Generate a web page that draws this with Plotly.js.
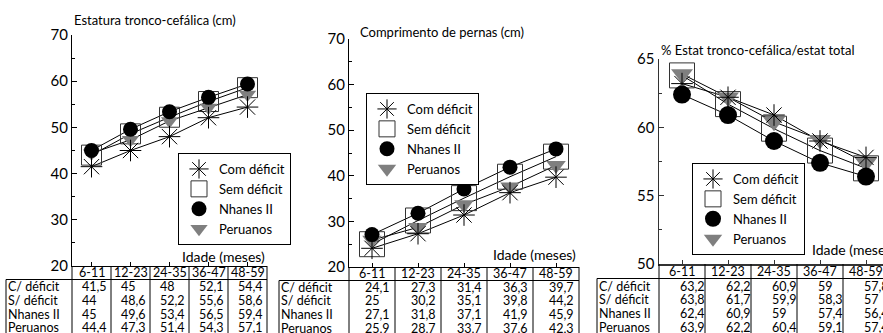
<!DOCTYPE html>
<html><head><meta charset="utf-8">
<script src="https://cdn.plot.ly/plotly-3.0.1.min.js"></script>
<style>html,body{margin:0;padding:0;background:#fff}#chart{width:883px;height:333px}</style>
</head><body><div id="chart"></div>
<script>
// ---- data ----
const ageGroups = ['6-11', '12-23', '24-35', '36-47', '48-59'];
const seriesNames = ['Com déficit', 'Sem déficit', 'Nhanes II', 'Peruanos'];
const rowLabels = ['C/ déficit', 'S/ déficit', 'Nhanes II', 'Peruanos'];
const xAxisLabel = 'Idade (meses)';
const panelTitles = ['Estatura tronco-cefálica (cm)', 'Comprimento de pernas (cm)', '% Estat tronco-cefálica/estat total'];

const tcComDeficit = [41.5, 45, 48, 52.1, 54.4];
const tcSemDeficit = [44, 48.6, 52.2, 55.6, 58.6];
const tcNhanes = [45, 49.6, 53.4, 56.5, 59.4];
const tcPeruanos = [44.4, 47.3, 51.4, 54.3, 57.1];

const cpComDeficit = [24.1, 27.3, 31.4, 36.3, 39.7];
const cpSemDeficit = [25, 30.2, 35.1, 39.8, 44.2];
const cpNhanes = [27.1, 31.8, 37.1, 41.9, 45.9];
const cpPeruanos = [25.9, 28.7, 33.7, 37.6, 42.3];

const pctComDeficit = [63.2, 62.2, 60.9, 59, 57.8];
const pctSemDeficit = [63.8, 61.7, 59.9, 58.3, 57];
const pctNhanes = [62.4, 60.9, 59, 57.4, 56.4];
const pctPeruanos = [63.9, 62.2, 60.4, 59.1, 57.4];

// ---- layout helpers ----
const W = 883, H = 333;
const FONT = 'Lato, "Open Sans", sans-serif';
const TFS = 12.5; // table font size
const px = v => v / W;
const py = v => 1 - v / H;

const panels = [
  { data: [tcComDeficit, tcSemDeficit, tcNhanes, tcPeruanos],
    xs: '', xPix: [72, 267], yPix: [266, 35], yRange: [20, 70], dtick: 10, minor: 5, xRange: [-0.5, 4.5],
    sz: { sq: 20, ci: 15, tr: 15, as: 18 }, axisColor: '#000', axisWidth: 1,
    title: [72, 20], xlab: [267, 256, 'right'], legend: [178, 153],
    table: { left: 6, headerY: 272.5, headerBottom: 279.5, row0: 286.5, pad: 0.23 } },
  { data: [cpComDeficit, cpSemDeficit, cpNhanes, cpPeruanos],
    xs: '2', xPix: [349, 579], yPix: [267, 39], yRange: [20, 70], dtick: 10, minor: 5, xRange: [-0.5, 4.5],
    sz: { sq: 25, ci: 15, tr: 17, as: 18 }, axisColor: '#000', axisWidth: 1,
    title: [358, 32], xlab: [578, 255, 'right'], legend: [366, 93],
    table: { left: 279, headerY: 273.5, headerBottom: 280.5, row0: 287, pad: 0.33 } },
  { data: [pctComDeficit, pctSemDeficit, pctNhanes, pctPeruanos],
    xs: '3', xPix: [659, 883], yPix: [264, 59], yRange: [50, 65], dtick: 5, minor: 2.5, xRange: [-0.5, -0.5 + (883 - 659) / 46],
    sz: { sq: 25, ci: 18, tr: 19, as: 18 }, axisColor: '#333', axisWidth: 1.5,
    title: [659, 50], xlab: [810, 250, 'left'], legend: [692, 163],
    table: { left: 597, headerY: 271, headerBottom: 278.5, row0: 286, pad: 0.43 } }
];
const ROWSTEP = 13.8;

const fmt = v => String(v).replace('.', ',');
const traces = [];
const layout = {
  width: W, height: H, autosize: false,
  margin: { l: 0, r: 0, t: 0, b: 0, pad: 0 },
  paper_bgcolor: '#fff', plot_bgcolor: 'rgba(0,0,0,0)',
  font: { family: FONT, color: '#000', size: 14 },
  showlegend: true,
  annotations: [], shapes: []
};

panels.forEach((p, k) => {
  const xa = 'x' + p.xs, ya = 'y' + p.xs;
  const legendId = 'legend' + p.xs;
  const dom = [px(p.xPix[0]), px(p.xPix[1])];
  layout['xaxis' + p.xs] = {
    domain: dom, anchor: ya, type: 'category', range: p.xRange,
    showline: true, linecolor: p.axisColor, linewidth: p.axisWidth,
    ticks: 'inside', ticklen: 4, tickcolor: p.axisColor, tickwidth: 1,
    showticklabels: false, showgrid: false, zeroline: false, fixedrange: true
  };
  layout['yaxis' + p.xs] = {
    domain: [py(p.yPix[0]), py(p.yPix[1])], anchor: xa, range: p.yRange,
    showline: true, linecolor: p.axisColor, linewidth: p.axisWidth,
    ticks: 'inside', ticklen: 5, tickcolor: p.axisColor, tickwidth: 1,
    tick0: p.yRange[0], dtick: p.dtick,
    minor: { dtick: p.minor, ticks: 'inside', ticklen: 3, tickcolor: p.axisColor, showgrid: false },
    tickfont: { size: 15, family: FONT, color: '#000' },
    showgrid: false, zeroline: false, fixedrange: true
  };
  layout[legendId] = {
    x: px(p.legend[0]), y: py(p.legend[1]), xanchor: 'left', yanchor: 'top',
    bgcolor: '#fff', bordercolor: '#000', borderwidth: 1,
    font: { family: FONT, size: 13, color: '#000' },
    itemwidth: 30, tracegroupgap: 0, traceorder: 'normal'
  };

  const [com, sem, nh, per] = p.data;
  const base = { x: ageGroups, xaxis: xa, yaxis: ya, legend: legendId, cliponaxis: false, hoverinfo: 'skip' };
  // connecting lines (not in legend)
  [com, sem, nh, per].forEach(arr => {
    traces.push(Object.assign({}, base, { y: arr, mode: 'lines', showlegend: false,
      line: { color: '#000', width: 1 } }));
  });
  // markers
  traces.push(Object.assign({}, base, { y: sem, mode: 'markers', name: seriesNames[1], legendrank: 2,
    marker: { symbol: 'square-open', size: p.sz.sq, color: '#333', line: { width: 1 } } }));
  traces.push(Object.assign({}, base, { y: per, mode: 'markers', name: seriesNames[3], legendrank: 4,
    marker: { symbol: 'triangle-down', size: p.sz.tr, color: '#7f7f7f', line: { width: 0 } } }));
  traces.push(Object.assign({}, base, { y: nh, mode: 'markers', name: seriesNames[2], legendrank: 3,
    marker: { symbol: 'circle', size: p.sz.ci, color: '#000', line: { width: 0 } } }));
  traces.push(Object.assign({}, base, { y: com, mode: 'markers', name: seriesNames[0], legendrank: 1,
    marker: { symbol: 'asterisk-open', size: p.sz.as, color: '#000', line: { width: 1, color: '#000' } } }));

  // title & axis label
  layout.annotations.push({ xref: 'paper', yref: 'paper', x: px(p.title[0]), y: py(p.title[1]),
    xanchor: 'left', yanchor: 'middle', showarrow: false, text: panelTitles[k],
    font: { size: 13, family: FONT, color: '#000' } });
  layout.annotations.push({ xref: 'paper', yref: 'paper', x: px(p.xlab[0]), y: py(p.xlab[1]),
    xanchor: p.xlab[2], yanchor: 'middle', showarrow: false, text: xAxisLabel,
    font: { size: 14, family: FONT, color: '#000' } });

  // table
  const t = p.table;
  const toPaper = v => dom[0] + (v - p.xRange[0]) / (p.xRange[1] - p.xRange[0]) * (dom[1] - dom[0]);
  ageGroups.forEach((g, i) => {
    layout.annotations.push({ xref: xa, yref: 'paper', x: i, y: py(t.headerY), xanchor: 'center', yanchor: 'middle',
      showarrow: false, text: g, borderpad: 0, font: { size: TFS, family: FONT, color: '#000' } });
  });
  rowLabels.forEach((lab, r) => {
    const yr = py(t.row0 + r * ROWSTEP);
    layout.annotations.push({ xref: 'paper', yref: 'paper', x: px(t.left + 1), y: yr, xanchor: 'left', yanchor: 'middle',
      showarrow: false, text: lab, borderpad: 0, font: { size: TFS, family: FONT, color: '#000' } });
    p.data[r].forEach((v, i) => {
      layout.annotations.push({ xref: xa, yref: 'paper', x: i - 0.5 + t.pad, y: yr, xanchor: 'left', yanchor: 'middle',
        showarrow: false, text: fmt(v), borderpad: 0, font: { size: TFS, family: FONT, color: '#000' } });
    });
  });
  const lineStyle = { color: '#000', width: 1 };
  for (let i = 0; i <= ageGroups.length; i++) {
    const xp = toPaper(i - 0.5);
    layout.shapes.push({ type: 'line', xref: 'paper', yref: 'paper', x0: xp, x1: xp,
      y0: py(p.yPix[0]), y1: -0.02, line: lineStyle });
  }
  layout.shapes.push({ type: 'line', xref: 'paper', yref: 'paper', x0: px(t.left), x1: toPaper(ageGroups.length - 0.5),
    y0: py(t.headerBottom), y1: py(t.headerBottom), line: lineStyle });
  layout.shapes.push({ type: 'line', xref: 'paper', yref: 'paper', x0: px(t.left), x1: px(t.left),
    y0: py(t.headerBottom), y1: -0.02, line: lineStyle });
});

Plotly.newPlot('chart', traces, layout, { staticPlot: true, displayModeBar: false });
</script>
</body></html>
